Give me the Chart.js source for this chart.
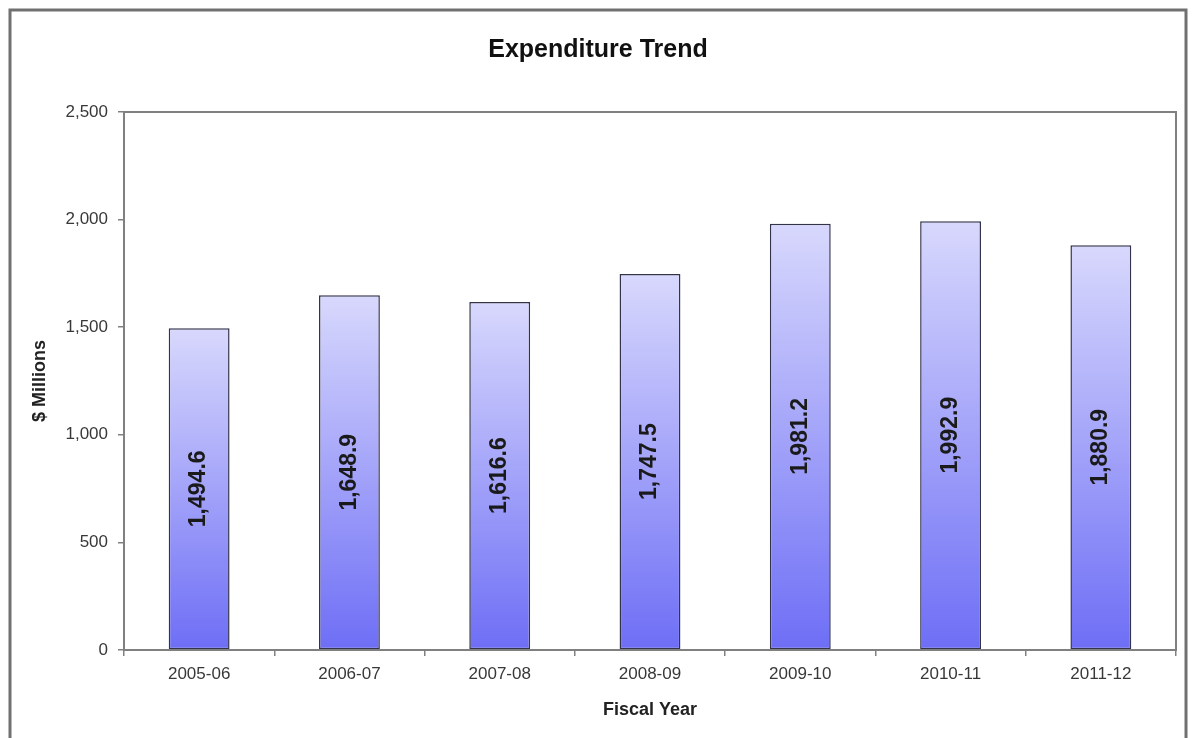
<!DOCTYPE html>
<html>
<head>
<meta charset="utf-8">
<script src="https://cdn.jsdelivr.net/npm/chart.js@4"></script>
<style>
  html, body { margin: 0; padding: 0; background: #fff; }
  #wrap { width: 1196px; height: 738px; }
</style>
</head>
<body>
<div id="wrap"><canvas id="myChart" width="1196" height="738"></canvas></div>
<script>
const fiscalYears = ['2005-06', '2006-07', '2007-08', '2008-09', '2009-10', '2010-11', '2011-12'];
const expenditure = [1494.6, 1648.9, 1616.6, 1747.5, 1981.2, 1992.9, 1880.9];
const yTicks = [0, 500, 1000, 1500, 2000, 2500];

const AXIS_GRAY = '#808080';
const TEXT_DARK = '#383838';

const fmt = (v, d) => v.toLocaleString('en-US', { minimumFractionDigits: d, maximumFractionDigits: d });

// gradient per bar, light at the top going to blue at the base
const barFill = (ctx) => {
    const chart = ctx.chart;
    if (!chart.chartArea || !chart.scales.y) return '#9a9af8';
    const y = chart.scales.y;
    const top = y.getPixelForValue(ctx.raw);
    const bottom = y.getPixelForValue(0);
    const g = chart.ctx.createLinearGradient(0, top, 0, bottom);
    g.addColorStop(0, '#d8d8fd');
    g.addColorStop(1, '#6e6ef6');
    return g;
};

const framePlugin = {
    id: 'frame',
    beforeDraw(chart) {
        const c = chart.ctx;
        c.save();
        c.fillStyle = '#ffffff';
        c.fillRect(0, 0, chart.width, chart.height);
        c.strokeStyle = '#707070';
        c.lineWidth = 3;
        c.strokeRect(10, 10, chart.width - 20, chart.height + 10);
        c.restore();
    },
    afterDraw(chart) {
        const a = chart.chartArea;
        const c = chart.ctx;
        c.save();
        c.strokeStyle = AXIS_GRAY;
        c.lineWidth = 2;
        c.strokeRect(a.left, a.top, a.right - a.left, a.bottom - a.top);
        c.restore();
    }
};

const valueLabels = {
    id: 'valueLabels',
    afterDatasetsDraw(chart) {
        const c = chart.ctx;
        const meta = chart.getDatasetMeta(0);
        c.save();
        c.font = 'bold 23px Arial, "Liberation Sans", sans-serif';
        c.fillStyle = '#1a1a1a';
        c.textAlign = 'center';
        c.textBaseline = 'middle';
        meta.data.forEach((bar, i) => {
            const mid = (bar.y + bar.base) / 2;
            c.save();
            c.translate(bar.x, mid);
            c.rotate(-Math.PI / 2);
            c.fillText(fmt(expenditure[i], 1), 0, 0);
            c.restore();
        });
        c.restore();
    }
};

new Chart(document.getElementById('myChart'), {
    type: 'bar',
    data: {
        labels: fiscalYears,
        datasets: [{
            data: expenditure,
            backgroundColor: barFill,
            borderColor: '#33334a',
            borderWidth: 1.5,
            borderSkipped: false,
            categoryPercentage: 1,
            barPercentage: 0.405
        }]
    },
    options: {
        responsive: false,
        animation: false,
        layout: { padding: { left: 20, right: 20, top: 0, bottom: 0 } },
        plugins: {
            legend: { display: false },
            tooltip: { enabled: false },
            title: {
                display: true,
                text: 'Expenditure Trend',
                color: '#111',
                font: { family: 'Arial, "Liberation Sans", sans-serif', size: 25, weight: 'bold' },
                padding: { top: 35, bottom: 47 }
            }
        },
        scales: {
            x: {
                afterFit(scale) { scale.height = 88; },
                grid: { drawOnChartArea: false, tickLength: 6, color: AXIS_GRAY, lineWidth: 1.5 },
                border: { display: true, color: AXIS_GRAY, width: 2 },
                ticks: {
                    color: TEXT_DARK,
                    padding: 8,
                    maxRotation: 0,
                    font: { family: 'Arial, "Liberation Sans", sans-serif', size: 17 }
                },
                title: {
                    display: true,
                    text: 'Fiscal Year',
                    color: '#222',
                    font: { family: 'Arial, "Liberation Sans", sans-serif', size: 18, weight: 'bold' },
                    padding: { top: 0, bottom: 17 }
                }
            },
            y: {
                min: 0,
                max: 2500,
                afterFit(scale) { scale.width = 104; },
                afterBuildTicks(scale) { scale.ticks = yTicks.map(v => ({ value: v })); },
                grid: { drawOnChartArea: false, tickLength: 6, color: AXIS_GRAY, lineWidth: 1.5 },
                border: { display: true, color: AXIS_GRAY, width: 2 },
                ticks: {
                    color: TEXT_DARK,
                    padding: 10,
                    font: { family: 'Arial, "Liberation Sans", sans-serif', size: 17 },
                    callback: (v) => fmt(v, 0)
                },
                title: {
                    display: true,
                    text: '$ Millions',
                    color: '#222',
                    font: { family: 'Arial, "Liberation Sans", sans-serif', size: 18, weight: 'bold' },
                    padding: { top: 9, bottom: 0 }
                }
            }
        }
    },
    plugins: [framePlugin, valueLabels]
});
</script>
</body>
</html>
